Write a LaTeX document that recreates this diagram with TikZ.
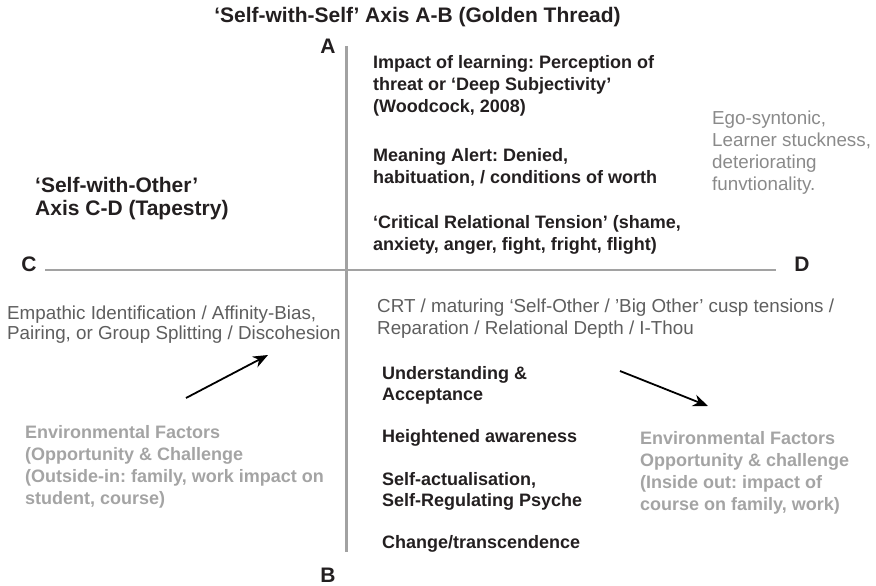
\documentclass[tikz,border=0pt]{standalone}
\usepackage{fontspec}
\setmainfont{Liberation Sans}
\usetikzlibrary{arrows.meta}
\frenchspacing

\definecolor{axisgrey}{HTML}{A2A2A2}
\definecolor{inkblack}{HTML}{231F20}
\definecolor{midgrey}{HTML}{5E5E5E}
\definecolor{softgrey}{HTML}{8A8A8A}
\definecolor{palegrey}{HTML}{A4A4A4}

\tikzset{
	axisline/.style={draw=axisgrey, line width=2.4pt},
	pole/.style={inner sep=0pt, text=inkblack, font=\fontsize{21}{25}\selectfont\bfseries},
	strongtext/.style={anchor=north west, inner sep=0pt, align=left, text=inkblack, font=\fontsize{18}{22}\selectfont\bfseries},
	greytext/.style={anchor=north west, inner sep=0pt, align=left, text=midgrey, font=\fontsize{18.8}{22}\selectfont},
	envtext/.style={anchor=north west, inner sep=0pt, align=left, text=palegrey, font=\fontsize{18}{22}\selectfont\bfseries},
	flow/.style={draw=black, line width=1.8pt, -{Stealth[length=15pt,width=12pt]}}
}

\begin{document}
\begin{tikzpicture}[x=1pt,y=-1pt]
	\useasboundingbox (0,0) rectangle (876,586);
	%%%%% AXES %%%%%
	\node[pole] (title) at (417.5,17) {‘Self-with-Self’ Axis A-B (Golden Thread)};
	\node[pole] (A) at (328,46) {A};
	\node[pole] (B) at (328,575) {B};
	\node[pole] (C) at (29,264) {C};
	\node[pole] (D) at (802,264) {D};
	
	\coordinate (axisA) at (346.5,46);
	\coordinate (axisB) at (346.5,552);
	\coordinate (axisC) at (45,270);
	\coordinate (axisD) at (776,270);
	\draw[axisline] (axisA) -- (axisB);
	\draw[axisline] (axisC) -- (axisD);
	
	\node[strongtext, font=\fontsize{21}{23}\selectfont\bfseries] (selfother) at (35,177) {‘Self-with-Other’\\Axis C-D (Tapestry)};
	
	%%%%% UPPER HALF %%%%%
	\node[strongtext] (impact) at (373,55) {Impact of learning: Perception of\\threat or ‘Deep Subjectivity’\\(Woodcock, 2008)};
	\node[strongtext] (meaning) at (373,148) {Meaning Alert: Denied,\\habituation, / conditions of worth};
	\node[strongtext] (tension) at (373,215) {‘Critical Relational Tension’ (shame,\\anxiety, anger, fight, fright, flight)};
	\node[greytext, text=softgrey] (ego) at (712,111) {Ego-syntonic,\\Learner stuckness,\\deteriorating\\funvtionality.};
	
	%%%%% LOWER LEFT %%%%%
	\node[greytext, font=\fontsize{18.8}{20}\selectfont] (empathic) at (7,306) {Empathic Identification / Affinity-Bias,\\Pairing, or Group Splitting / Discohesion};
	\node[envtext] (outsidein) at (25,425) {Environmental Factors\\(Opportunity \& Challenge\\(Outside-in: family, work impact on\\student, course)};
	\coordinate (intail) at (186,398);
	\coordinate (inhead) at (268,355);
	\draw[flow] (intail) -- (inhead);
	
	%%%%% LOWER RIGHT %%%%%
	\node[greytext] (crt) at (377,299) {CRT / maturing ‘Self-Other / ’Big Other’ cusp tensions /\\Reparation / Relational Depth / I-Thou};
	\node[strongtext, font=\fontsize{18}{21}\selectfont\bfseries] (accept) at (382,366) {Understanding \&\\Acceptance};
	\node[strongtext] (aware) at (382,429) {Heightened awareness};
	\node[strongtext, font=\fontsize{18}{21}\selectfont\bfseries] (actual) at (382,472) {Self-actualisation,\\Self-Regulating Psyche};
	\node[strongtext] (change) at (382,535) {Change/transcendence};
	\node[envtext] (insideout) at (640,431) {Environmental Factors\\Opportunity \& challenge\\(Inside out: impact of\\course on family, work)};
	\coordinate (outtail) at (620,371);
	\coordinate (outhead) at (708,406);
	\draw[flow] (outtail) -- (outhead);
\end{tikzpicture}
\end{document}
